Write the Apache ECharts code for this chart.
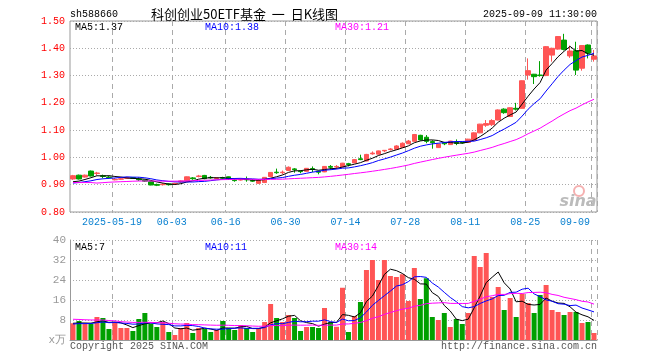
<!DOCTYPE html>
<html><head><meta charset="utf-8">
<script src="https://cdn.jsdelivr.net/npm/echarts@6/dist/echarts.min.js"></script>
<style>html,body{margin:0;padding:0;background:#fff}#c{width:660px;height:360px}</style>
</head><body><div id="c"></div>
<script>
const dates = ['2025-05-08','2025-05-09','2025-05-12','2025-05-13','2025-05-14','2025-05-15','2025-05-16','2025-05-19','2025-05-20','2025-05-21','2025-05-22','2025-05-23','2025-05-26','2025-05-27','2025-05-28','2025-05-29','2025-05-30',
'2025-06-03','2025-06-04','2025-06-05','2025-06-06','2025-06-09','2025-06-10','2025-06-11','2025-06-12','2025-06-13','2025-06-16','2025-06-17','2025-06-18','2025-06-19','2025-06-20','2025-06-23','2025-06-24','2025-06-25','2025-06-26','2025-06-27','2025-06-30',
'2025-07-01','2025-07-02','2025-07-03','2025-07-04','2025-07-07','2025-07-08','2025-07-09','2025-07-10','2025-07-11','2025-07-14','2025-07-15','2025-07-16','2025-07-17','2025-07-18','2025-07-21','2025-07-22','2025-07-23','2025-07-24','2025-07-25','2025-07-28','2025-07-29','2025-07-30','2025-07-31',
'2025-08-01','2025-08-04','2025-08-05','2025-08-06','2025-08-07','2025-08-08','2025-08-11','2025-08-12','2025-08-13','2025-08-14','2025-08-15','2025-08-18','2025-08-19','2025-08-20','2025-08-21','2025-08-22','2025-08-25','2025-08-26','2025-08-27','2025-08-28','2025-08-29',
'2025-09-01','2025-09-02','2025-09-03','2025-09-04','2025-09-05','2025-09-08','2025-09-09'];
const opens  = [0.921,0.935,0.928,0.950,0.941,0.933,0.928,0.918,0.920,0.923,0.926,0.921,0.917,0.911,0.901,0.900,0.903,0.903,0.910,0.913,0.925,0.930,0.934,0.927,0.923,0.926,0.929,0.918,0.917,0.921,
0.916,0.905,0.908,0.930,0.946,0.944,0.952,0.958,0.950,0.949,0.959,0.949,0.947,0.967,0.965,0.965,0.977,0.980,0.995,0.987,1.013,1.012,1.024,1.029,1.030,1.037,1.050,1.059,1.081,1.074,
1.058,1.036,1.054,1.047,1.055,1.055,1.055,1.063,1.090,1.118,1.120,1.137,1.177,1.150,1.180,1.180,1.302,1.305,1.302,1.300,1.375,1.397,1.430,1.372,1.391,1.327,1.412,1.360];
const closes = [0.933,0.921,0.935,0.932,0.943,0.930,0.926,0.920,0.922,0.926,0.923,0.918,0.913,0.899,0.898,0.902,0.900,0.905,0.914,0.929,0.922,0.932,0.922,0.925,0.925,0.924,0.920,0.915,0.919,0.918,
0.913,0.917,0.927,0.945,0.944,0.946,0.964,0.955,0.948,0.960,0.956,0.946,0.967,0.964,0.967,0.979,0.974,0.992,0.992,1.011,1.016,1.024,1.026,1.031,1.042,1.052,1.060,1.084,1.064,1.059,
1.054,1.049,1.050,1.060,1.051,1.053,1.067,1.090,1.122,1.124,1.135,1.174,1.164,1.182,1.177,1.281,1.318,1.296,1.300,1.406,1.400,1.443,1.396,1.390,1.320,1.410,1.382,1.372];
const lows   = [0.918,0.919,0.926,0.930,0.934,0.924,0.922,0.916,0.918,0.921,0.921,0.914,0.910,0.898,0.895,0.897,0.897,0.900,0.907,0.912,0.918,0.927,0.920,0.922,0.921,0.921,0.918,0.911,0.915,0.911,
0.910,0.904,0.906,0.929,0.940,0.938,0.951,0.944,0.942,0.948,0.946,0.938,0.946,0.955,0.957,0.964,0.967,0.979,0.990,0.986,1.010,1.011,1.019,1.025,1.029,1.036,1.049,1.058,1.062,1.052,
1.032,1.035,1.045,1.046,1.045,1.050,1.054,1.062,1.089,1.112,1.115,1.136,1.160,1.148,1.172,1.179,1.285,1.269,1.296,1.298,1.351,1.395,1.392,1.365,1.302,1.318,1.363,1.351];
const highs  = [0.936,0.937,0.937,0.952,0.947,0.937,0.932,0.924,0.926,0.929,0.928,0.927,0.918,0.912,0.904,0.906,0.905,0.907,0.916,0.930,0.928,0.936,0.936,0.932,0.928,0.929,0.930,0.921,0.923,0.930,
0.920,0.918,0.928,0.946,0.959,0.952,0.967,0.961,0.952,0.961,0.967,0.951,0.968,0.972,0.972,0.980,0.980,0.994,1.010,1.013,1.022,1.025,1.027,1.034,1.045,1.055,1.064,1.086,1.083,1.082,
1.063,1.050,1.057,1.061,1.066,1.058,1.068,1.092,1.123,1.137,1.140,1.176,1.180,1.183,1.200,1.282,1.363,1.306,1.353,1.408,1.402,1.445,1.453,1.410,1.424,1.412,1.414,1.394];
const volumes = [6.7,7.6,6.4,6.4,9.2,8.8,4.4,7.2,4.8,4.8,3.6,8.4,10.8,6.4,5.2,7.2,3.2,2.0,4.8,6.8,2.8,4.8,4.4,3.2,4.0,7.6,4.8,4.0,6.0,4.8,
3.2,4.8,7.2,14.4,8.8,7.2,10.0,8.8,3.6,5.2,5.2,4.8,12.8,7.1,5.3,20.9,3.2,9.6,15.2,28,32,24,32,25.6,25.2,26.3,15.6,28.8,16.4,24.7,
9.2,8.0,10.8,5.2,8.4,6.4,10.8,33.6,29.2,34.8,17.2,21.2,12,16.8,9.2,18.4,14.8,10.8,18,22,12,11.2,10,11.2,11.2,6.8,7.2,2.8];
// sessions before the visible window (only feed the moving averages)
const prevCloses = [0.930,0.935,0.930,1.000,0.885,0.880,0.890,0.895,0.900,0.895,0.900,0.905,0.900,0.905,0.910,0.905,0.900,0.905,0.910,0.905,0.900,0.905,0.900,0.895,0.905,0.910,0.905,0.900,0.907];
const prevVolumes = [10,10,9,10,9,10,11,15,9,8.5,8,9,8.5,8,8.5,9,8,8.5,8,8,6,6.5,6,6,6,7,6.5,6.8,6.5];
const labelDates = ['2025-05-19','2025-06-03','2025-06-16','2025-06-30','2025-07-14','2025-07-28','2025-08-11','2025-08-25','2025-09-09'];
const priceTicks = {min:0.80, max:1.50, step:0.10};
const volTicks = {min:0, max:40, step:8};

const UP = '#ff5555', DOWN = '#00a000';
const MONO = 'Liberation Mono, DejaVu Sans Mono, monospace';

function ma(arr, prev, n) {
  const all = prev.concat(arr), off = prev.length;
  return arr.map((_, i) => { let s = 0; for (let k = 0; k < n; k++) s += all[off + i - k]; return s / n; });
}
const pMA5 = ma(closes, prevCloses, 5), pMA10 = ma(closes, prevCloses, 10), pMA30 = ma(closes, prevCloses, 30);
const vMA5 = ma(volumes, prevVolumes, 5), vMA10 = ma(volumes, prevVolumes, 10), vMA30 = ma(volumes, prevVolumes, 30);
const L = dates.length - 1;
const labelIdx = new Set(labelDates.map(d => dates.indexOf(d)));
const isLbl = (i) => labelIdx.has(i);

const chart = echarts.init(document.getElementById('c'), null, {renderer: 'canvas'});
const vSplit = {show: true, interval: isLbl, lineStyle: {color: '#aaa', type: [5, 4], width: 1}};
const hSplit = {show: true, lineStyle: {color: '#aaa', type: [1, 2], width: 1}};
const lineS = (data, color, xi, yi) => ({type: 'line', data: data.map(v => +v.toFixed(4)), xAxisIndex: xi, yAxisIndex: yi, symbol: 'none', smooth: false,
  lineStyle: {width: 1, color: color}, itemStyle: {color: color}, silent: true, z: 3});

function txt(text, x, y, fill, font, align) {
  return {type: 'text', silent: true, z: 10, style: {text: text, x: x, y: y, fill: fill, font: font, align: align || 'left', verticalAlign: 'middle', textAlign: align || 'left', textVerticalAlign: 'middle'}};
}

chart.setOption({
  animation: false,
  backgroundColor: '#fff',
  grid: [
    {left: 70, top: 21, width: 527, height: 191, show: true, borderColor: '#999', borderWidth: 1, backgroundColor: 'transparent'},
    {left: 70, top: 240, width: 527, height: 100, show: false}
  ],
  xAxis: [
    {type: 'category', gridIndex: 0, data: dates, boundaryGap: true,
      axisLine: {show: false}, axisTick: {show: false}, splitLine: vSplit,
      axisLabel: {show: true, interval: isLbl, color: '#0a80d0', fontFamily: MONO, fontSize: 10, margin: 5,
        formatter: (v, i) => { const t = (v === labelDates[0]) ? v : v.slice(5); return (v === dates[L]) ? '{r|' + t + '}' : '{c|' + t + '}'; },
        rich: {c: {padding: [0, 6, 0, 0], color: '#0a80d0', fontFamily: MONO, fontSize: 10}, r: {padding: [0, 38, 0, 0], color: '#0a80d0', fontFamily: MONO, fontSize: 10}}}},
    {type: 'category', gridIndex: 1, data: dates, boundaryGap: true, position: 'top',
      axisLine: {show: true, lineStyle: {color: '#999', width: 1}}, axisTick: {show: false}, axisLabel: {show: false}, splitLine: vSplit}
  ],
  yAxis: [
    {type: 'value', gridIndex: 0, min: priceTicks.min, max: priceTicks.max, interval: priceTicks.step,
      axisLine: {show: false}, axisTick: {show: false}, splitLine: hSplit,
      axisLabel: {color: '#ff0000', fontFamily: MONO, fontSize: 10, margin: 5, formatter: v => v.toFixed(2)}},
    {type: 'value', gridIndex: 1, min: volTicks.min, max: volTicks.max, interval: volTicks.step,
      axisLine: {show: true, lineStyle: {color: '#999', width: 1}}, axisTick: {show: false}, splitLine: hSplit,
      axisLabel: {color: '#999', fontFamily: MONO, fontSize: 11, margin: 4, formatter: v => v === 0 ? 'x万' : String(v)}}
  ],
  series: [
    {type: 'candlestick', xAxisIndex: 0, yAxisIndex: 0, barWidth: 5,
      data: opens.map((o, i) => [o, closes[i], lows[i], highs[i]]),
      itemStyle: {color: UP, color0: DOWN, borderColor: UP, borderColor0: DOWN, borderWidth: 1}, silent: true, z: 2},
    lineS(pMA5, '#000000', 0, 0), lineS(pMA10, '#0000ff', 0, 0), lineS(pMA30, '#ff00ff', 0, 0),
    {type: 'bar', xAxisIndex: 1, yAxisIndex: 1, barWidth: 5, silent: true, z: 2,
      data: volumes.map((v, i) => ({value: v, itemStyle: {color: closes[i] >= opens[i] ? UP : DOWN}}))},
    lineS(vMA5, '#000000', 1, 1), lineS(vMA10, '#0000ff', 1, 1), lineS(vMA30, '#ff00ff', 1, 1)
  ],
  graphic: [
    txt('sh588660', 70, 14, '#000', '10px ' + MONO),
    txt('科创创业50ETF基金  一  日K线图', 151, 14, '#000', '13px "Noto Sans CJK SC"'),
    txt('2025-09-09 11:30:00', 597, 14, '#000', '10px ' + MONO, 'right'),
    txt('MA5:' + pMA5[L].toFixed(2), 75, 27, '#000', '10px ' + MONO),
    txt('MA10:' + pMA10[L].toFixed(2), 205, 27, '#0000ff', '10px ' + MONO),
    txt('MA30:' + pMA30[L].toFixed(2), 335, 27, '#ff00ff', '10px ' + MONO),
    txt('MA5:' + Math.floor(vMA5[L]), 75, 247, '#000', '10px ' + MONO),
    txt('MA10:' + Math.floor(vMA10[L]), 205, 247, '#0000ff', '10px ' + MONO),
    txt('MA30:' + Math.floor(vMA30[L]), 335, 247, '#ff00ff', '10px ' + MONO),
    txt('Copyright 2025 SINA.COM', 70, 346, '#555', '10px ' + MONO),
    txt('http://finance.sina.com.cn', 597, 346, '#555', '10px ' + MONO, 'right'),
    {type: 'circle', silent: true, z: 9, shape: {cx: 579, cy: 191, r: 5}, style: {fill: 'none', stroke: '#f5b0b0', lineWidth: 2}},
    txt('sina', 578, 202, '#bbbbbb', 'italic bold 16px "DejaVu Sans"', 'center')
  ]
});
</script></body></html>
